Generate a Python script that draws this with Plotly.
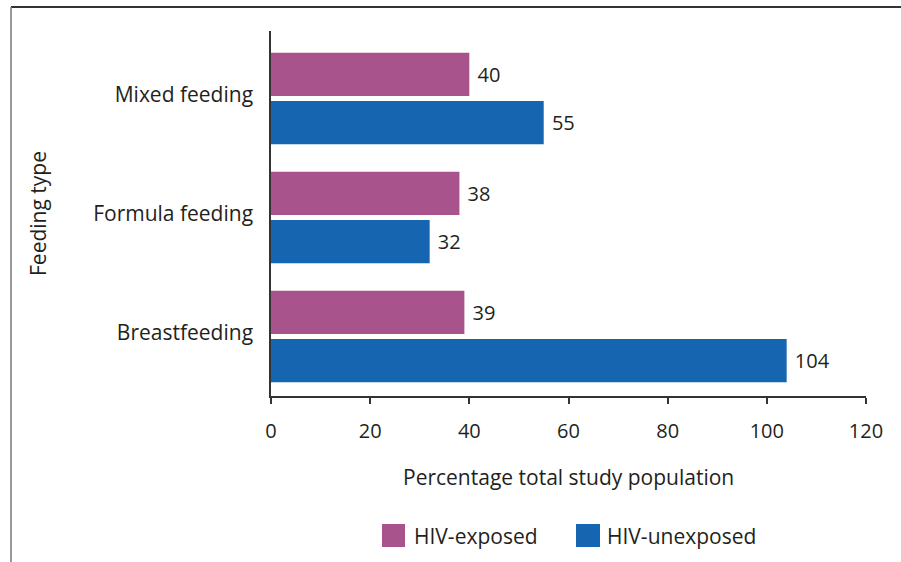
import plotly.graph_objects as go

categories = ["Breastfeeding", "Formula feeding", "Mixed feeding"]
hiv_exposed = [39, 38, 40]
hiv_unexposed = [104, 32, 55]
series_names = ["HIV-exposed", "HIV-unexposed"]
x_ticks = [0, 20, 40, 60, 80, 100, 120]

C_EXP = "#A8538C"
C_UNEXP = "#1565B0"
TXT = "#231F20"
FONT = "Open Sans"
FS = 21

W, H = 901, 562
L, R, T, B = 271, 866, 31, 396


def px(x):
    return (x - L) / (R - L)


def py(y):
    return (B - y) / (B - T)


fig = go.Figure()
fig.add_trace(go.Bar(
    y=categories, x=hiv_unexposed, orientation="h", name=series_names[1],
    marker=dict(color=C_UNEXP, line=dict(width=0)),
    text=[f" {v}" for v in hiv_unexposed], textposition="outside",
    textfont=dict(family=FONT, size=FS - 1, color=TXT), cliponaxis=False,
    showlegend=False,
))
fig.add_trace(go.Bar(
    y=categories, x=hiv_exposed, orientation="h", name=series_names[0],
    marker=dict(color=C_EXP, line=dict(width=0)),
    text=[f" {v}" for v in hiv_exposed], textposition="outside",
    textfont=dict(family=FONT, size=FS - 1, color=TXT), cliponaxis=False,
    showlegend=False,
))

shapes = [
    dict(type="line", xref="paper", yref="paper", x0=px(11), x1=px(905), y0=py(7), y1=py(7),
         line=dict(color="#333333", width=2)),
    dict(type="line", xref="paper", yref="paper", x0=px(11), x1=px(11), y0=py(7), y1=py(566),
         line=dict(color="#777777", width=1.5)),
    dict(type="rect", xref="paper", yref="paper", x0=px(382), x1=px(405), y0=py(547), y1=py(524),
         fillcolor=C_EXP, line=dict(width=0)),
    dict(type="rect", xref="paper", yref="paper", x0=px(576), x1=px(600), y0=py(547), y1=py(524),
         fillcolor=C_UNEXP, line=dict(width=0)),
]

annotations = [
    dict(text=series_names[0], xref="paper", yref="paper", x=px(412), y=py(536),
         xanchor="left", yanchor="middle", showarrow=False,
         font=dict(family=FONT, size=FS, color=TXT)),
    dict(text=series_names[1], xref="paper", yref="paper", x=px(605), y=py(536),
         xanchor="left", yanchor="middle", showarrow=False,
         font=dict(family=FONT, size=FS, color=TXT)),
    dict(text="Percentage total study population", xref="paper", yref="paper",
         x=px(568), y=py(477), xanchor="center", yanchor="middle", showarrow=False,
         font=dict(family=FONT, size=FS, color=TXT)),
    dict(text="Feeding type", xref="paper", yref="paper", textangle=-90,
         x=px(38), y=py(214), xanchor="center", yanchor="middle", showarrow=False,
         font=dict(family=FONT, size=FS, color=TXT)),
]

fig.update_layout(
    width=W, height=H, autosize=False,
    margin=dict(l=L, r=W - R, t=T, b=H - B, pad=0),
    paper_bgcolor="white", plot_bgcolor="white",
    barmode="group", bargap=0.19, bargroupgap=0.1,
    font=dict(family=FONT, size=FS, color=TXT),
    shapes=shapes, annotations=annotations,
    xaxis=dict(range=[0, 120], tickvals=x_ticks, ticks="outside", ticklen=6,
               tickwidth=1.5, tickcolor="#333333", showline=True, linecolor="#333333",
               linewidth=1.5, showgrid=False, zeroline=False, ticklabelstandoff=10,
               tickfont=dict(family=FONT, size=FS - 1, color=TXT)),
    yaxis=dict(categoryorder="array", categoryarray=categories,
               range=[-0.5, 2.567], showline=True, linecolor="#333333", linewidth=1.5,
               ticks="", showgrid=False, zeroline=False, ticklabelstandoff=12,
               ticklabelshift=-4,
               tickfont=dict(family=FONT, size=FS, color=TXT)),
)

fig.write_html("out.html")
